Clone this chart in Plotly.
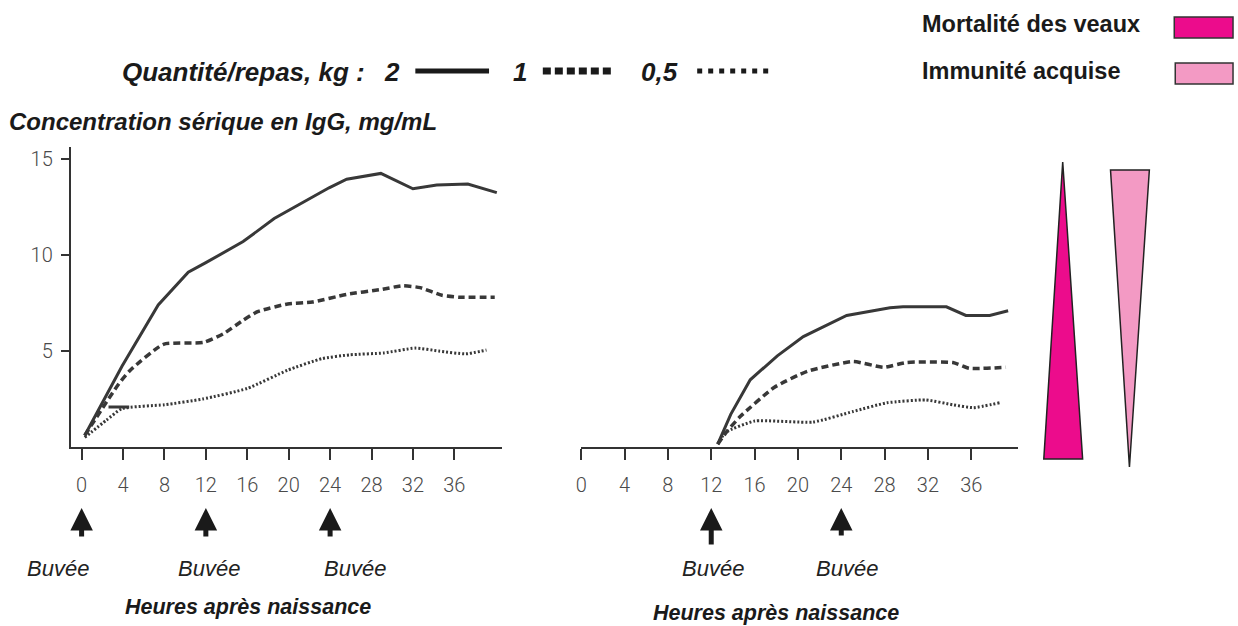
import plotly.graph_objects as go

W, H = 1238, 626

# ---------------- data ----------------
tick_hours = [0, 4, 8, 12, 16, 20, 24, 28, 32, 36]
tick_igg = [5, 10, 15]

# left panel (first feeding at birth)
hours_left_2kg = [0.3, 3.9, 7.4, 10.3, 12.0, 15.6, 18.6, 21.6, 23.9, 25.6, 28.9, 32.0, 34.3, 37.3, 40.1]
igg_left_2kg = [0.6, 4.2, 7.4, 9.1, 9.6, 10.7, 11.9, 12.8, 13.5, 13.95, 14.25, 13.45, 13.65, 13.7, 13.25]

hours_left_1kg = [0.3, 3.6, 4.7, 7.9, 11.8, 13.7, 15.6, 17.0, 19.9, 22.3, 25.6, 28.9, 31.0, 32.7, 34.8, 36.5, 39.9]
igg_left_1kg = [0.6, 3.3, 4.0, 5.35, 5.45, 5.9, 6.6, 7.05, 7.45, 7.55, 7.95, 8.2, 8.4, 8.3, 7.9, 7.8, 7.8]

hours_left_05kg = [0.3, 2.4, 3.9, 8.0, 11.7, 16.0, 19.9, 23.2, 25.9, 29.2, 32.2, 34.5, 37.1, 39.1]
igg_left_05kg = [0.5, 1.4, 2.0, 2.2, 2.5, 3.05, 4.0, 4.6, 4.8, 4.9, 5.15, 5.0, 4.85, 5.05]

# short solid stroke visible at the start of the 0.5 kg plateau
hours_left_stroke = [2.6, 4.6]
igg_left_stroke = [2.08, 2.08]

# right panel (first feeding at 12 h)
hours_right_2kg = [12.6, 13.8, 15.6, 18.1, 20.5, 24.5, 28.5, 29.7, 33.7, 35.5, 37.7, 39.4]
igg_right_2kg = [0.15, 1.7, 3.5, 4.75, 5.75, 6.85, 7.25, 7.3, 7.3, 6.85, 6.85, 7.1]

hours_right_1kg = [12.6, 13.5, 14.7, 17.8, 20.9, 25.1, 27.9, 30.0, 34.3, 35.8, 39.2]
igg_right_1kg = [0.15, 0.85, 1.6, 3.1, 3.95, 4.45, 4.15, 4.4, 4.4, 4.1, 4.15]

hours_right_05kg = [12.6, 13.3, 16.0, 21.4, 25.1, 28.2, 31.8, 34.3, 36.2, 38.6]
igg_right_05kg = [0.15, 0.75, 1.35, 1.3, 1.85, 2.3, 2.45, 2.2, 2.05, 2.3]

feed_left = [0, 12, 24]
feed_right = [12, 24]

# ---------------- helpers ----------------
def px(x):
    return x / W

def py(y):
    return 1 - y / H

FONT = "Liberation Sans, Arial, sans-serif"
LINE = "#383838"
AX = "#333333"

fig = go.Figure()

def add_series(xs, ys, xa, ya, kind):
    if kind == "solid":
        line = dict(color=LINE, width=3)
    elif kind == "dash":
        line = dict(color=LINE, width=3.5, dash="7px,4px", shape="spline", smoothing=0.5)
    else:
        line = dict(color=LINE, width=3, dash="2px,2px", shape="spline", smoothing=0.5)
    fig.add_trace(go.Scatter(x=xs, y=ys, mode="lines", line=line, xaxis=xa, yaxis=ya,
                             showlegend=False, hoverinfo="skip"))

add_series(hours_left_2kg, igg_left_2kg, "x", "y", "solid")
add_series(hours_left_1kg, igg_left_1kg, "x", "y", "dash")
add_series(hours_left_05kg, igg_left_05kg, "x", "y", "dot")
add_series(hours_left_stroke, igg_left_stroke, "x", "y", "solid")
add_series(hours_right_2kg, igg_right_2kg, "x2", "y2", "solid")
add_series(hours_right_1kg, igg_right_1kg, "x2", "y2", "dash")
add_series(hours_right_05kg, igg_right_05kg, "x2", "y2", "dot")

# ---------------- axes ----------------
ydom = [py(447), py(147)]
yrange = [0, 15.625]
tickfont = dict(family="Roboto, Liberation Sans, sans-serif", size=20, color="#4a4a4a", weight=300)

fig.update_layout(
    width=W, height=H, autosize=False,
    margin=dict(l=0, r=0, t=0, b=0),
    paper_bgcolor="white", plot_bgcolor="white",
    xaxis=dict(domain=[px(66), px(499)], range=[-1.05, 40.6], tickmode="array",
               tickvals=tick_hours, ticktext=[str(v) for v in tick_hours],
               ticks="outside", ticklen=11, tickwidth=2, tickcolor=AX,
               showline=True, linewidth=2, linecolor=AX, showgrid=False, zeroline=False,
               tickfont=tickfont, ticklabelstandoff=8, anchor="y"),
    yaxis=dict(domain=ydom, range=yrange, tickmode="array", tickvals=tick_igg,
               ticks="outside", ticklen=8, tickwidth=2, tickcolor=AX,
               showline=True, linewidth=2, linecolor=AX, showgrid=False, zeroline=False,
               tickfont=tickfont, ticklabelstandoff=4, anchor="x"),
    yaxis3=dict(domain=ydom, range=yrange, overlaying="y", anchor="x", tickmode="array",
                tickvals=tick_igg, ticks="inside", ticklen=8, tickwidth=2, tickcolor=AX,
                showticklabels=False, showline=False, showgrid=False, zeroline=False),
    xaxis2=dict(domain=[px(578), px(1017)], range=[-0.05, 40.3], tickmode="array",
                tickvals=tick_hours, ticktext=[str(v) for v in tick_hours],
                ticks="outside", ticklen=11, tickwidth=2, tickcolor=AX,
                showline=True, linewidth=2, linecolor=AX, showgrid=False, zeroline=False,
                tickfont=tickfont, ticklabelstandoff=8, anchor="y2"),
    yaxis2=dict(domain=ydom, range=yrange, visible=False, anchor="x2"),
)

ann = []
shapes = []

def text(x, y, s, size, bold=True, italic=True, anchor="left", color="#1a1a1a"):
    ann.append(dict(x=px(x), y=py(y), xref="paper", yref="paper", text=s, showarrow=False,
                    xanchor=anchor, yanchor="middle",
                    font=dict(family=FONT, size=size, color=color,
                              weight="bold" if bold else "normal",
                              style="italic" if italic else "normal")))

# top legend for quantities
text(115, 72, "Quantité/repas, kg :", 26)
text(389, 72, "2", 26, anchor="center")
shapes.append(dict(type="line", xref="paper", yref="paper", x0=px(412), x1=px(486),
                   y0=py(71), y1=py(71), line=dict(color="#1a1a1a", width=5)))
text(517, 72, "1", 26, anchor="center")
shapes.append(dict(type="line", xref="paper", yref="paper", x0=px(540), x1=px(612),
                   y0=py(71), y1=py(71), line=dict(color="#1a1a1a", width=7, dash="8px,4px")))
text(657, 72, "0,5", 26, anchor="center")
shapes.append(dict(type="line", xref="paper", yref="paper", x0=px(695), x1=px(770),
                   y0=py(71), y1=py(71), line=dict(color="#1a1a1a", width=5, dash="5px,6px")))

# y title
text(2, 121, "Concentration sérique en IgG, mg/mL", 24)

# right legend
text(919, 24, "Mortalité des veaux", 23.5, italic=False)
text(919, 71, "Immunité acquise", 23.5, italic=False)
shapes.append(dict(type="rect", xref="paper", yref="paper", x0=px(1174), x1=px(1233),
                   y0=py(38), y1=py(17), fillcolor="#EC0C8C", line=dict(color="#333", width=1.5)))
shapes.append(dict(type="rect", xref="paper", yref="paper", x0=px(1175), x1=px(1233),
                   y0=py(84), y1=py(63), fillcolor="#F39AC4", line=dict(color="#333", width=1.5)))

# triangles
shapes.append(dict(type="path", xref="paper", yref="paper",
                   path=f"M {px(1062)} {py(162)} L {px(1082)} {py(459)} L {px(1043)} {py(459)} Z",
                   fillcolor="#EC0C8C", line=dict(color="#222", width=1.5)))
shapes.append(dict(type="path", xref="paper", yref="paper",
                   path=f"M {px(1110)} {py(170)} L {px(1149)} {py(170)} L {px(1129)} {py(467)} Z",
                   fillcolor="#F39AC4", line=dict(color="#222", width=1.5)))

# feeding arrows and labels
def arrow(xref, xval, length):
    ann.append(dict(x=xval, y=py(508), xref=xref, yref="paper", text="", showarrow=True,
                    ax=0, ay=length, arrowhead=2, arrowsize=0.9, arrowwidth=5,
                    arrowcolor="#1a1a1a", standoff=0, startstandoff=0))

for h in feed_left:
    arrow("x", h, 30)
for h, L in zip(feed_right, [38, 29]):
    arrow("x2", h, L)

for x in [53, 205, 351]:
    text(x, 568, "Buvée", 22, bold=False, anchor="center", color="#222")
for x in [711, 845]:
    text(x, 568, "Buvée", 22, bold=False, anchor="center", color="#222")

text(244, 607, "Heures après naissance", 21.5, anchor="center")
text(774, 613, "Heures après naissance", 21.5, anchor="center")

fig.update_layout(annotations=ann, shapes=shapes)
fig.write_html("out.html",
               config={"displayModeBar": False, "staticPlot": True},
               post_script="document.body.style.margin='0';document.body.style.padding='0';"
                           "document.documentElement.style.overflow='hidden';")
